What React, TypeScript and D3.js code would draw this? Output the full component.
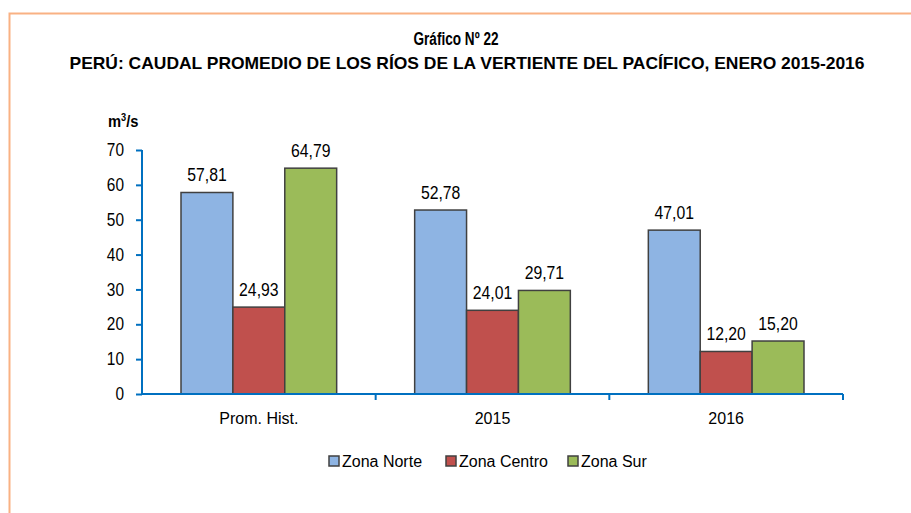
import React, { useEffect, useRef } from 'react';
import * as d3 from 'd3';

const categories = ['Prom. Hist.', '2015', '2016'];
const series = ['Zona Norte', 'Zona Centro', 'Zona Sur'];
const zonaNorte = [57.81, 52.78, 47.01];
const zonaCentro = [24.93, 24.01, 12.2];
const zonaSur = [64.79, 29.71, 15.2];
const yTicks = [0, 10, 20, 30, 40, 50, 60, 70];
const colors = ['#8EB4E3', '#C0504D', '#9BBB59'];

const font = '"Liberation Sans", Arial, sans-serif';

// squeeze text horizontally to mimic the narrow font of the original
const condense = (sel: d3.Selection<any, any, any, any>, factor: number) => {
  sel.each(function () {
    const el = this as SVGTextElement;
    const len = el.getComputedTextLength();
    el.setAttribute('textLength', String(len * factor));
    el.setAttribute('lengthAdjust', 'spacingAndGlyphs');
  });
};

const App = () => {
  const ref = useRef<SVGSVGElement>(null);

  useEffect(() => {
    const width = 911;
    const height = 513;
    const svg = d3.select(ref.current)
      .attr('width', width)
      .attr('height', height)
      .style('position', 'absolute')
      .style('left', 0)
      .style('top', 0)
      .style('font-family', font);

    svg.selectAll('*').remove();

    // frame
    svg.append('path')
      .attr('d', `M9.5,${height} V13.5 H${width}`)
      .attr('fill', 'none')
      .attr('stroke', '#F9B183')
      .attr('stroke-width', 2);

    svg.append('text')
      .attr('x', 456).attr('y', 45)
      .attr('text-anchor', 'middle')
      .attr('font-size', 17.5).attr('font-weight', 'bold')
      .attr('textLength', 85).attr('lengthAdjust', 'spacingAndGlyphs')
      .text('Gráfico Nº 22');
    svg.append('text')
      .attr('x', 467).attr('y', 68.5)
      .attr('text-anchor', 'middle')
      .attr('font-size', 17).attr('font-weight', 'bold')
      .attr('textLength', 795).attr('lengthAdjust', 'spacingAndGlyphs')
      .text('PERÚ: CAUDAL PROMEDIO DE LOS RÍOS DE LA VERTIENTE DEL PACÍFICO, ENERO 2015-2016');

    const unit = svg.append('text')
      .attr('x', 108).attr('y', 127)
      .attr('font-size', 16).attr('font-weight', 'bold');
    unit.append('tspan').text('m');
    unit.append('tspan').attr('dy', -6).attr('font-size', 10).text('3');
    unit.append('tspan').attr('dy', 6).text('/s');
    condense(unit, 0.92);

    const x0 = d3.scaleBand().domain(categories).range([142, 843]).paddingInner(0).paddingOuter(0);
    const x1 = d3.scaleBand().domain(series).range([39, x0.bandwidth() - 39]);
    const y = d3.scaleLinear().domain([0, 70]).range([394, 150]);

    const values = [zonaNorte, zonaCentro, zonaSur];

    const groups = svg.append('g')
      .selectAll('g')
      .data(categories)
      .join('g')
      .attr('transform', d => `translate(${x0(d)},0)`);

    groups.selectAll('rect')
      .data((c, i) => series.map((s, j) => ({ s, j, v: values[j][i] })))
      .join('rect')
      .attr('x', d => x1(d.s)!)
      .attr('y', d => y(d.v))
      .attr('width', x1.bandwidth())
      .attr('height', d => y(0) - y(d.v))
      .attr('fill', d => colors[d.j])
      .attr('stroke', '#404040')
      .attr('stroke-width', 1.5);

    const valueLabels = groups.selectAll('text')
      .data((c, i) => series.map((s, j) => ({ s, j, v: values[j][i] })))
      .join('text')
      .attr('x', d => x1(d.s)! + x1.bandwidth() / 2)
      .attr('y', d => y(d.v) - 11)
      .attr('text-anchor', 'middle')
      .attr('font-size', 17.5)
      .text(d => d3.format('.2f')(d.v).replace('.', ','));
    condense(valueLabels, 0.9);

    // y axis
    const yAxis = svg.append('g').attr('transform', 'translate(142,0)')
      .call(d3.axisLeft(y).tickValues(yTicks).tickSize(6).tickPadding(12).tickFormat(d3.format('d')));
    yAxis.select('.domain').attr('stroke', '#0070C0').attr('stroke-width', 2).attr('d', `M0,${y(0)}V${y(70)}`);
    yAxis.selectAll('.tick line').attr('stroke', '#0070C0').attr('stroke-width', 2);
    const tickText = yAxis.selectAll('.tick text')
      .attr('font-size', 17.5).attr('font-family', font).attr('fill', '#000');
    condense(tickText, 0.88);

    // x axis
    svg.append('line')
      .attr('x1', 142).attr('x2', 843)
      .attr('y1', y(0)).attr('y2', y(0))
      .attr('stroke', '#0070C0').attr('stroke-width', 2);
    svg.append('g')
      .selectAll('line')
      .data(categories)
      .join('line')
      .attr('x1', d => x0(d)! + x0.bandwidth())
      .attr('x2', d => x0(d)! + x0.bandwidth())
      .attr('y1', y(0)).attr('y2', y(0) + 6)
      .attr('stroke', '#0070C0').attr('stroke-width', 2);
    svg.append('g')
      .selectAll('text')
      .data(categories)
      .join('text')
      .attr('x', d => x0(d)! + x0.bandwidth() / 2)
      .attr('y', 423.5)
      .attr('text-anchor', 'middle')
      .attr('font-size', 16)
      .text(d => d);

    // legend
    const legendX = [329, 446, 568];
    const legend = svg.append('g')
      .selectAll('g')
      .data(series)
      .join('g')
      .attr('transform', (d, i) => `translate(${legendX[i]},461)`);
    legend.append('rect')
      .attr('x', 0).attr('y', -5)
      .attr('width', 10).attr('height', 10)
      .attr('fill', (d, i) => colors[i])
      .attr('stroke', '#404040').attr('stroke-width', 1.5);
    legend.append('text')
      .attr('x', 13).attr('y', 5.5)
      .attr('font-size', 16)
      .text(d => d);
  }, []);

  return <svg ref={ref}></svg>;
};

export default App;
